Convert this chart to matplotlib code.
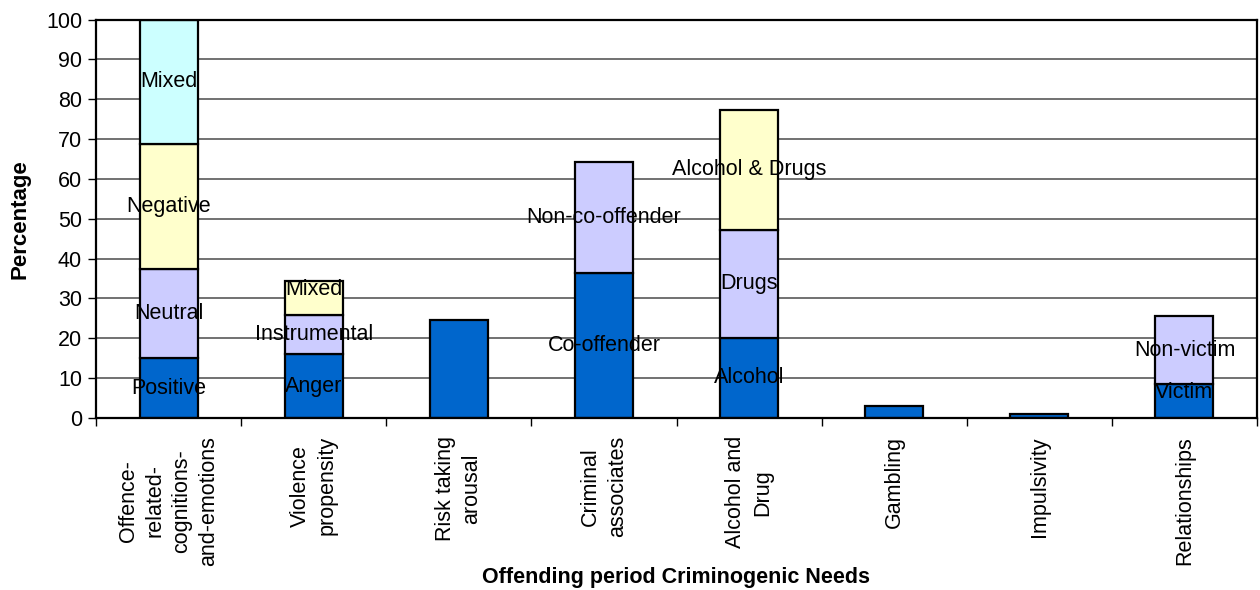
import matplotlib
matplotlib.use("Agg")
import matplotlib.pyplot as plt
from matplotlib.ticker import FixedLocator, MultipleLocator

plt.rcParams["font.family"] = ["Liberation Sans", "DejaVu Sans"]

categories = [
    "Offence-\nrelated-\ncognitions-\nand-emotions",
    "Violence\npropensity",
    "Risk taking\narousal",
    "Criminal\nassociates",
    "Alcohol and\nDrug",
    "Gambling",
    "Impulsivity",
    "Relationships",
]

# Stacked segments for each need, bottom to top
offence_values = [15.0, 22.5, 31.2, 31.3]
offence_labels = ["Positive", "Neutral", "Negative", "Mixed"]
violence_values = [16.0, 9.8, 8.6]
violence_labels = ["Anger", "Instrumental", "Mixed"]
risk_values = [24.6]
risk_labels = [""]
associates_values = [36.5, 27.8]
associates_labels = ["Co-offender", "Non-co-offender"]
alcohol_values = [20.2, 27.0, 30.2]
alcohol_labels = ["Alcohol", "Drugs", "Alcohol & Drugs"]
gambling_values = [3.1]
gambling_labels = [""]
impulsivity_values = [0.9]
impulsivity_labels = [""]
relationship_values = [8.5, 17.0]
relationship_labels = ["Victim", "Non-victim"]

stack_values = [offence_values, violence_values, risk_values, associates_values,
                alcohol_values, gambling_values, impulsivity_values, relationship_values]
stack_labels = [offence_labels, violence_labels, risk_labels, associates_labels,
                alcohol_labels, gambling_labels, impulsivity_labels, relationship_labels]

level_colors = ["#0066CC", "#CCCCFF", "#FFFFCC", "#CCFFFF"]

W, H = 1260, 590
fig = plt.figure(figsize=(W / 100, H / 100), dpi=100)
ax = fig.add_axes([96 / W, 1 - 418 / H, (1257 - 96) / W, (418 - 19.5) / H])

for i, (vals, labs) in enumerate(zip(stack_values, stack_labels)):
    bottom = 0.0
    for level, (v, lab) in enumerate(zip(vals, labs)):
        ax.bar(i, v, bottom=bottom, width=0.4, color=level_colors[level],
               edgecolor="black", linewidth=1.6, zorder=3)
        if lab:
            # thin segments get their label lifted towards the segment top
            y = bottom + v - 2.2 if v < 9 else bottom + v / 2
            ax.text(i, y, lab, ha="center", va="center",
                    fontsize=15.5, color="black", zorder=5)
        bottom += v

ax.set_xlim(-0.5, len(categories) - 0.5)
ax.set_ylim(0, 100)

ax.yaxis.set_major_locator(MultipleLocator(10))
ax.grid(axis="y", color="#4a4a4a", linewidth=1.1, zorder=0)
ax.set_axisbelow(True)

# category labels at bar centres, tick marks at the category boundaries
ax.xaxis.set_major_locator(FixedLocator(range(len(categories))))
ax.xaxis.set_minor_locator(FixedLocator([k - 0.5 for k in range(len(categories) + 1)]))
ax.set_xticklabels(categories, rotation=90, va="top", ha="center",
                   multialignment="center", fontsize=15.5, linespacing=1.35)
ax.tick_params(axis="x", which="major", length=0, pad=13)
ax.tick_params(axis="x", which="minor", length=6, width=1.0, direction="out")
ax.tick_params(axis="y", length=6, width=1.0, direction="out", labelsize=15.5, pad=4)

for s in ax.spines.values():
    s.set_color("black")
    s.set_linewidth(1.6)
    s.set_zorder(4)

ax.set_ylabel("Percentage", fontsize=16, fontweight="bold", labelpad=11)
fig.text(0.5 * (96 + 1257) / W, 1 - 578 / H, "Offending period Criminogenic Needs",
         ha="center", va="center", fontsize=15.5, fontweight="bold")

fig.savefig("out.png", dpi=100, facecolor="white")
